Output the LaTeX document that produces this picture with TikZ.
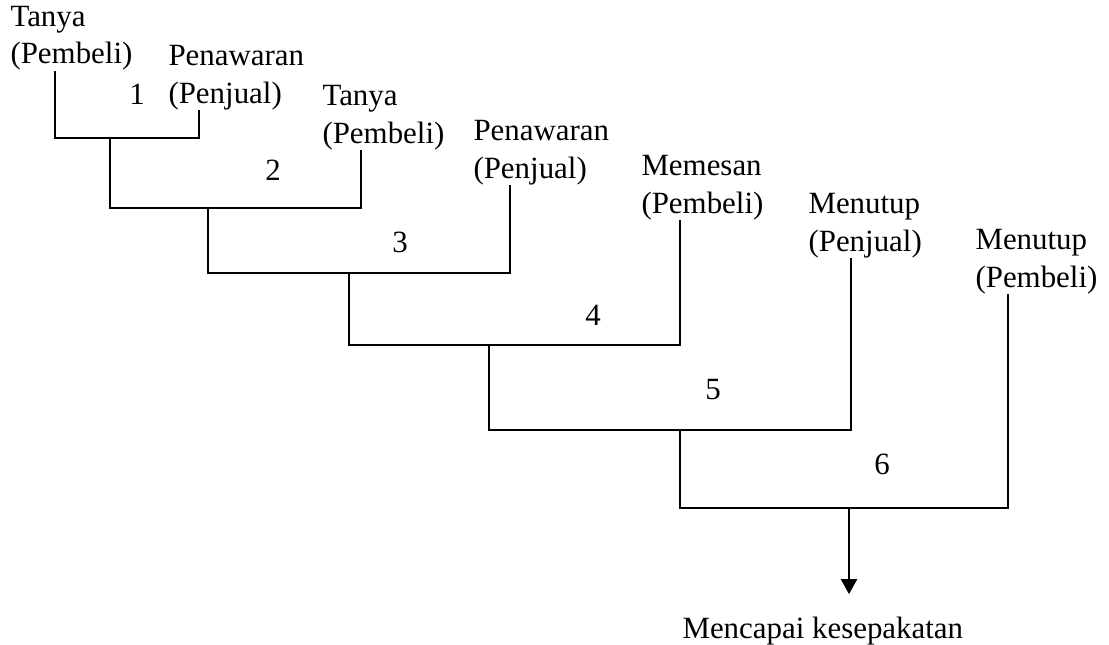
\documentclass[tikz,border=0pt]{standalone}
\usepackage{fontspec}
\setmainfont{Liberation Serif}
\usetikzlibrary{arrows.meta}

\begin{document}
\begin{tikzpicture}[
    x=0.3883pt, y=-0.3883pt,
    lbl/.style={align=left, anchor=base west, inner sep=0pt, font={\fontsize{12}{14.4}\selectfont}},
    num/.style={anchor=base, inner sep=0pt, font={\fontsize{12}{14.4}\selectfont}},
    ln/.style={line width=0.8pt},
    arr/.style={ln, -{Triangle[length=5.8pt, width=6.2pt]}}
]
\useasboundingbox (0,0) rectangle (1109,645);

% the offers and answers, one step lower each time (placed by their last line)
\node[lbl] (l1) at (10, 64)   {Tanya\\(Pembeli)};
\node[lbl] (l2) at (168, 103) {Penawaran\\(Penjual)};
\node[lbl] (l3) at (322, 143) {Tanya\\(Pembeli)};
\node[lbl] (l4) at (473, 178) {Penawaran\\(Penjual)};
\node[lbl] (l5) at (641, 213) {Memesan\\(Pembeli)};
\node[lbl] (l6) at (808, 251) {Menutup\\(Penjual)};
\node[lbl] (l7) at (975, 287) {Menutup\\(Pembeli)};

\node[num] (n1) at (137, 105) {1};
\node[num] (n2) at (273, 180) {2};
\node[num] (n3) at (400, 252) {3};
\node[num] (n4) at (593, 325) {4};
\node[num] (n5) at (713, 399) {5};
\node[num] (n6) at (882, 474) {6};

\node[lbl] (goal) at (682, 638) {Mencapai kesepakatan};

% where each bracket drops down to the next one
\coordinate (m1) at (110, 138);
\coordinate (m2) at (208, 208);
\coordinate (m3) at (349, 273);
\coordinate (m4) at (489, 345);
\coordinate (m5) at (680, 430);
\coordinate (m6) at (849, 508);

\draw[ln] (l1.south -| 55,0) |- (m1) -| (l2.south -| 199,0);
\draw[ln] (m1) |- (m2) -| (l3.south -| 361,0);
\draw[ln] (m2) |- (m3) -| (l4.south -| 510,0);
\draw[ln] (m3) |- (m4) -| (l5.south -| 680,0);
\draw[ln] (m4) |- (m5) -| (l6.south -| 851,0);
\draw[ln] (m5) |- (m6) -| (l7.south -| 1008,0);
\draw[arr, shorten >=8.5pt] (m6) -- (m6 |- goal.north);
\end{tikzpicture}
\end{document}
